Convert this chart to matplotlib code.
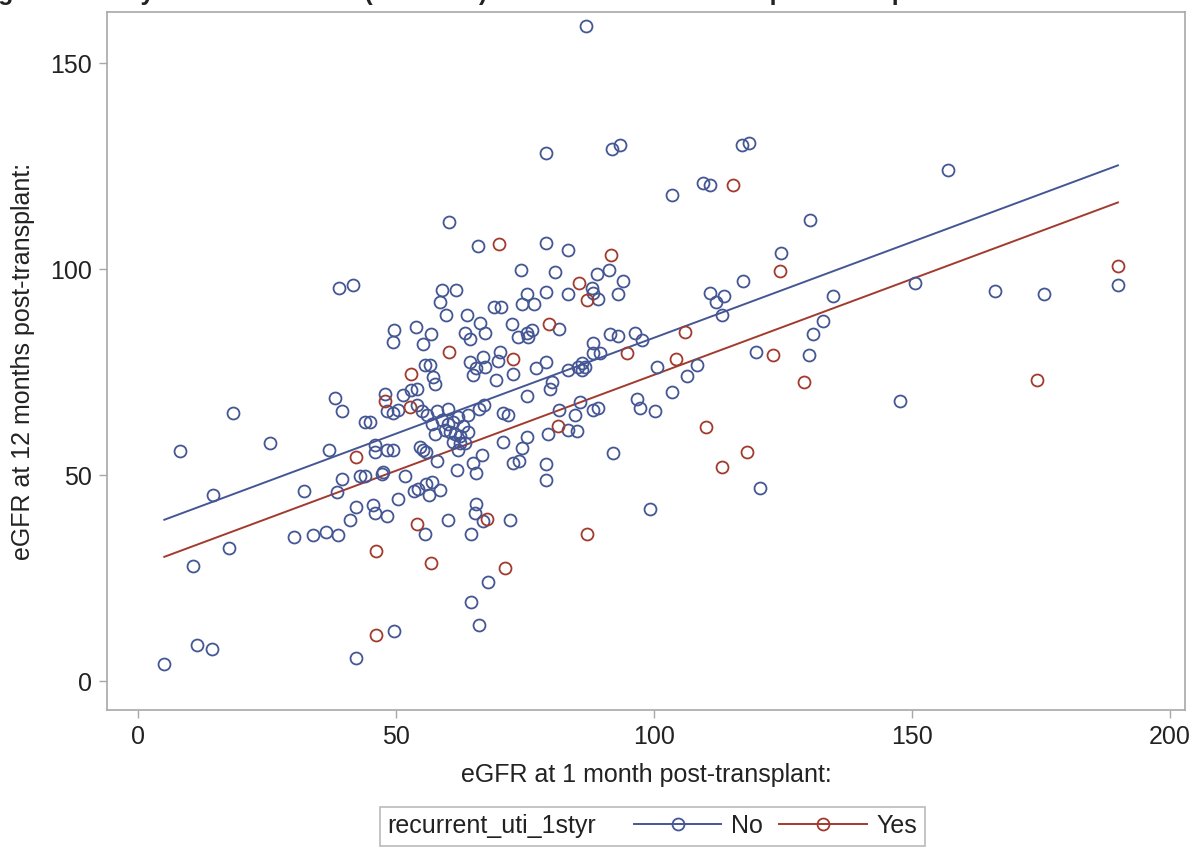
import numpy as np
import matplotlib
matplotlib.use("Agg")
import matplotlib.pyplot as plt
from matplotlib.lines import Line2D
from matplotlib.offsetbox import HPacker

plt.rcParams['font.family'] = ['Liberation Sans', 'DejaVu Sans']

# eGFR at 1 month (x) and 12 months (y) post-transplant, recurrent UTI = No
no_x = [5.1, 8.1, 10.7, 11.4, 14.4, 14.5, 17.7, 18.5, 25.6, 30.3, 32.2, 34.0, 36.4, 37.0,
        38.2, 38.8, 39.0, 39.6, 38.5, 39.6, 41.6, 41.1, 42.2, 42.2, 43.0, 44.0, 44.0, 45.0,
        45.6, 45.9, 45.9, 45.9, 47.2, 47.5, 47.9, 48.2, 48.2, 48.2, 49.5, 49.5, 49.6, 49.6,
        49.4, 50.4, 50.4, 51.4, 51.7, 53.0, 53.4, 53.9, 54.0, 54.3, 54.7, 55.3, 55.9, 55.2,
        55.6, 55.6, 55.9, 56.3, 56.6, 56.7, 56.9, 57.2, 57.6, 57.9, 58.5, 58.5, 58.9, 59.7,
        60.0, 60.3, 61.6, 61.9, 63.4, 63.7, 64.3, 64.3, 64.5, 64.5, 64.9, 64.9, 65.3, 65.6,
        65.6, 65.6, 65.9, 66.0, 66.3, 66.6, 66.9, 66.9, 67.2, 67.3, 67.9, 69.0, 69.4, 69.8,
        70.2, 70.3, 70.8, 70.8, 71.8, 72.0, 72.4, 72.7, 72.7, 73.6, 73.9, 74.2, 74.4, 74.5,
        75.3, 75.3, 75.3, 75.3, 75.6, 76.3, 76.7, 77.2, 79.0, 79.0, 79.0, 79.0, 79.1, 79.0,
        79.5, 79.8, 80.2, 80.8, 81.5, 81.5, 83.3, 83.4, 83.4, 83.4, 84.7, 85.0, 85.3, 85.7,
        86.0, 86.6, 86.0, 86.8, 87.9, 88.2, 88.9, 89.2, 88.2, 89.2, 88.2, 88.2, 89.5, 91.3,
        91.5, 91.9, 92.1, 93.1, 93.1, 93.5, 93.9, 96.3, 96.8, 97.2, 97.6, 99.3, 100.2, 100.5,
        103.4, 103.4, 106.4, 108.3, 109.4, 110.9, 110.9, 112.0, 113.1, 113.6, 117.1, 117.2,
        118.4, 119.8, 120.5, 124.6, 130.2, 130.1, 130.9, 132.7, 134.6, 147.6, 150.6, 156.9,
        166.1, 175.5, 189.9,
        62.4, 63.4, 58.0, 59.0, 60.0, 61.0, 62.0, 63.0, 64.0, 62.5, 61.5, 60.5, 59.5, 61.0,
        62.0, 57.0, 56.0, 55.0, 54.0, 60.0, 64.0, 66.0, 67.0, 57.5]
no_y = [4.2, 55.8, 27.9, 8.7, 7.9, 45.1, 32.3, 65.1, 57.7, 35.0, 46.1, 35.5, 36.2, 56.2,
        68.8, 35.4, 95.3, 65.5, 45.9, 49.0, 96.1, 39.1, 42.3, 5.6, 49.8, 49.8, 62.8, 62.8,
        42.8, 40.9, 57.3, 55.7, 50.4, 50.8, 69.7, 65.6, 56.2, 40.0, 56.2, 65.0, 12.1, 85.2,
        82.4, 44.3, 65.8, 69.4, 49.8, 70.6, 46.2, 86.0, 71.0, 46.7, 56.9, 56.1, 55.7, 81.8,
        76.7, 35.8, 47.9, 45.1, 76.7, 84.2, 48.3, 73.9, 72.2, 53.5, 91.9, 46.5, 94.9, 88.9,
        39.1, 111.4, 94.9, 51.2, 84.4, 88.8, 83.1, 77.5, 35.8, 19.1, 74.3, 53.0, 40.9, 75.9,
        43.0, 50.6, 105.6, 13.6, 87.0, 54.9, 78.7, 38.8, 84.6, 76.3, 24.1, 90.7, 73.1, 77.7,
        79.9, 90.7, 65.0, 58.1, 64.6, 39.1, 86.7, 74.5, 53.0, 83.6, 53.5, 99.8, 56.5, 91.6,
        93.9, 84.4, 69.2, 59.3, 83.6, 85.2, 91.6, 75.9, 94.5, 77.5, 52.6, 48.8, 106.3, 128.3,
        60.1, 70.8, 72.6, 99.3, 85.4, 65.9, 104.6, 93.9, 75.5, 60.9, 64.6, 60.8, 76.3, 67.8,
        77.1, 76.3, 75.5, 159.0, 95.3, 94.2, 98.9, 92.8, 65.9, 66.4, 82.0, 79.6, 79.6, 99.9,
        84.2, 129.1, 55.3, 83.7, 93.9, 130.1, 97.2, 84.5, 68.6, 66.4, 82.8, 41.7, 65.6, 76.3,
        118.1, 70.3, 74.0, 76.8, 120.8, 120.4, 94.3, 91.9, 88.8, 93.5, 130.1, 97.2,
        130.7, 79.9, 47.0, 104.0, 112.0, 79.1, 84.2, 87.4, 93.4, 68.1, 96.7, 124.0,
        94.7, 93.9, 96.1,
        57.7, 57.7, 65.5, 63.5, 62.5, 63.0, 64.0, 62.0, 60.5, 59.5, 60.0, 60.5, 61.0, 58.0,
        56.0, 62.5, 64.5, 65.5, 67.0, 66.0, 64.5, 66.0, 67.0, 60.0]

# recurrent UTI = Yes
yes_x = [42.2, 46.2, 46.2, 47.8, 52.7, 52.9, 54.1, 56.7, 60.3, 67.6, 70.0, 71.1, 72.6,
         79.7, 81.3, 85.4, 87.1, 87.1, 91.6, 94.8, 104.2, 106.0, 110.1, 113.1, 115.4,
         118.0, 123.1, 124.5, 129.1, 174.3, 189.9]
yes_y = [54.3, 31.6, 11.2, 67.9, 66.6, 74.5, 38.1, 28.8, 79.9, 39.4, 106.1, 27.5, 78.1,
         86.7, 61.9, 96.7, 92.4, 35.8, 103.5, 79.6, 78.2, 84.8, 61.7, 52.0, 120.4,
         55.6, 79.1, 99.5, 72.6, 73.1, 100.8]

# ANCOVA fit (common slope, group intercepts)
slope = 0.4654
intercept_no = 36.8
intercept_yes = 27.8

c_no = '#445694'
c_yes = '#A23A2E'
txt = '#222222'
frame = '#a8a8a8'
fs = 18

fig = plt.figure(figsize=(11.93, 8.57), dpi=100)
ax = fig.add_axes([0.0897, 0.1715, 0.9036, 0.8145])

xfit = np.array([min(no_x + yes_x), max(no_x + yes_x)])
ax.plot(xfit, intercept_no + slope * xfit, color=c_no, lw=1.4, zorder=2)
ax.plot(xfit, intercept_yes + slope * xfit, color=c_yes, lw=1.4, zorder=2)

ax.plot(no_x, no_y, 'o', ls='none', mfc='none', mec=c_no, ms=8.6, mew=1.3, zorder=3)
ax.plot(yes_x, yes_y, 'o', ls='none', mfc='none', mec=c_yes, ms=8.6, mew=1.3, zorder=4)

ax.set_xlim(-6, 202.9)
ax.set_ylim(-7, 162.4)
ax.set_xticks([0, 50, 100, 150, 200])
ax.set_yticks([0, 50, 100, 150])
ax.tick_params(direction='out', length=6, width=1, color=frame,
               labelsize=fs, labelcolor=txt, pad=5)
for s in ax.spines.values():
    s.set_color(frame)
    s.set_linewidth(1.2)

ax.set_xlabel('eGFR at 1 month post-transplant:', fontsize=fs, color=txt, labelpad=10)
ax.set_ylabel('eGFR at 12 months post-transplant:', fontsize=fs, color=txt, labelpad=11)

# title is cut off at the top edge in the original
fig.text(-0.02, 1.0005, 'Figure 1. Analysis of covariance (ANCOVA) for eGFR at 12 months post-transplant',
         fontsize=fs, fontweight='bold', color=txt, va='baseline', ha='left')

h_no = Line2D([], [], color=c_no, lw=1.4, marker='o', mfc='none', mec=c_no, ms=8.6, mew=1.3)
h_yes = Line2D([], [], color=c_yes, lw=1.4, marker='o', mfc='none', mec=c_yes, ms=8.6, mew=1.3)
leg = fig.legend(handles=[h_no, h_yes], labels=['No', 'Yes'], ncol=2,
                 title='recurrent_uti_1styr', loc='center',
                 bbox_to_anchor=(0.547, 0.036), fontsize=fs, title_fontsize=fs,
                 handlelength=3.5, handletextpad=0.4, columnspacing=0.65,
                 borderpad=0.3, fancybox=False, markerscale=1.0)
leg.get_frame().set_edgecolor(frame)
leg.get_frame().set_linewidth(1.2)
for t in leg.get_texts():
    t.set_color(txt)
leg.get_title().set_color(txt)

# put the legend title on the same row as the entries
leg._legend_box = HPacker(pad=0.3 * fs, sep=27, align='center',
                          children=[leg._legend_title_box, leg._legend_handle_box])
leg._legend_box.set_figure(fig)
leg._legend_box.axes = leg.axes
leg._legend_box.set_offset(leg._findoffset)

fig.savefig('out.png', dpi=100)
